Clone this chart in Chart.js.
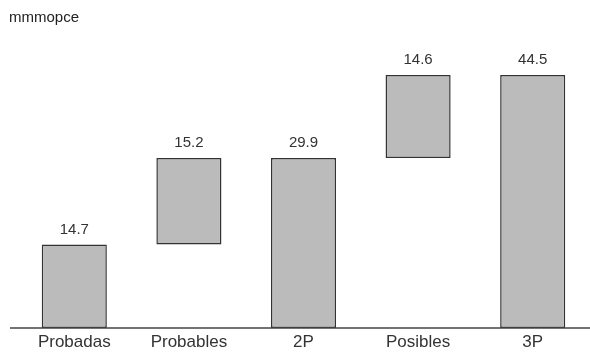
<!DOCTYPE html>
<html>
<head>
<meta charset="utf-8">
<script src="https://cdn.jsdelivr.net/npm/chart.js@4.4.1/dist/chart.umd.min.js"></script>
<style>
  html, body { margin: 0; padding: 0; background: #fff; }
  #wrap { width: 590px; height: 352px; }
</style>
</head>
<body>
<div id="wrap"><canvas id="grafico"></canvas></div>
<script>
// Reservas (waterfall)
const categorias = ["Probadas", "Probables", "2P", "Posibles", "3P"];
const valores = [14.7, 15.2, 29.9, 14.6, 44.5];
const bases = [0, 14.7, 0, 29.9, 0];
const unidad = "mmmopce";

const barras = valores.map((v, i) => [bases[i], +(bases[i] + v).toFixed(1)]);
const fuente = "Arial, 'Liberation Sans', sans-serif";

// titulo, etiquetas encima de cada barra y linea del eje
const etiquetasPlugin = {
  id: "etiquetas",
  afterDatasetsDraw(chart) {
    const ctx = chart.ctx;
    const meta = chart.getDatasetMeta(0);
    ctx.save();
    ctx.font = "15px " + fuente;
    ctx.fillStyle = "#333";
    ctx.textAlign = "center";
    ctx.textBaseline = "middle";
    meta.data.forEach((bar, i) => {
      ctx.fillText(valores[i].toFixed(1), bar.x, bar.y - 15);
    });
    // unidad arriba a la izquierda
    ctx.textAlign = "left";
    ctx.textBaseline = "alphabetic";
    ctx.fillStyle = "#222";
    ctx.fillText(unidad, 9, 22);
    const y0 = chart.scales.y.getPixelForValue(0);
    ctx.strokeStyle = "#444";
    ctx.lineWidth = 1.5;
    ctx.beginPath();
    ctx.moveTo(10, y0);
    ctx.lineTo(chart.chartArea.right, y0);
    ctx.stroke();
    ctx.restore();
  }
};

new Chart(document.getElementById("grafico"), {
  type: "bar",
  data: {
    labels: categorias,
    datasets: [{
      data: barras,
      backgroundColor: "#bbbbbb",
      borderColor: "#333",
      borderWidth: 1.5,
      borderSkipped: false,
      categoryPercentage: 1,
      barPercentage: 0.568
    }]
  },
  options: {
    responsive: true,
    maintainAspectRatio: false,
    animation: false,
    layout: { padding: { left: 17, right: 0, top: 24, bottom: -4.5 } },
    plugins: {
      legend: { display: false },
      tooltip: { enabled: false },
      title: { display: false }
    },
    scales: {
      x: {
        grid: { display: false, drawTicks: false },
        border: { display: false },
        ticks: {
          color: "#333",
          padding: 4,
          font: { size: 17, family: fuente }
        }
      },
      y: {
        display: false,
        min: 0,
        max: 53.45
      }
    }
  },
  plugins: [etiquetasPlugin]
});
</script>
</body>
</html>
